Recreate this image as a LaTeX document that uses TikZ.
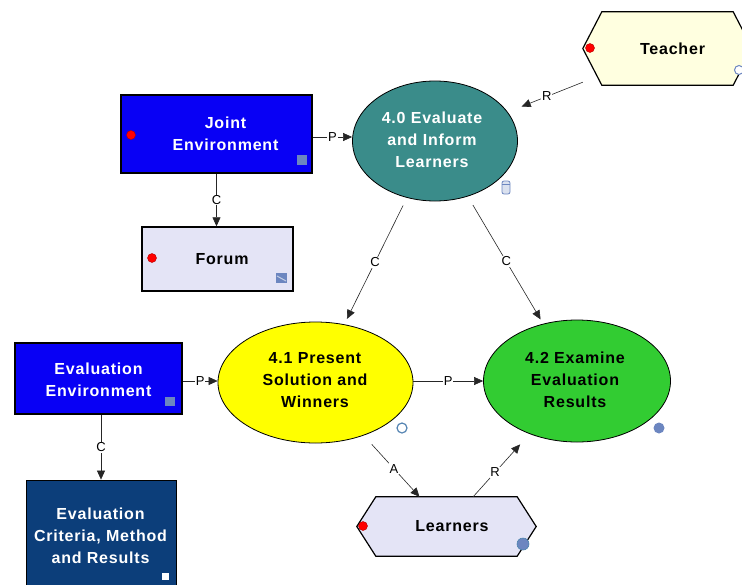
\documentclass[tikz,border=0pt]{standalone}
\usepackage{fontspec}
\setmainfont{Liberation Sans}
\usetikzlibrary{shapes.geometric,arrows.meta,calc}
\definecolor{jblue}{RGB}{8,0,245}
\definecolor{critblue}{RGB}{12,62,122}
\definecolor{tealc}{RGB}{58,140,138}
\definecolor{yel}{RGB}{255,255,0}
\definecolor{grn}{RGB}{50,204,50}
\definecolor{lav}{RGB}{228,228,246}
\definecolor{cream}{RGB}{255,255,224}
\definecolor{iconc}{RGB}{108,134,192}
\begin{document}
\begin{tikzpicture}[x=1pt,y=-1pt,
  txt/.style={font=\fontsize{16}{22}\selectfont\bfseries\addfontfeature{LetterSpace=5},align=center,inner sep=0pt},
  box/.style={draw=black,line width=1.4pt,inner sep=0pt},
  proc/.style={ellipse,draw=black,line width=0.8pt,inner sep=0pt},
  hexnode/.style={inner sep=0pt},
  hexline/.style={draw=black,line width=1.2pt},
  conn/.style={-{Triangle[length=9pt,width=8pt]},line width=0.6pt,draw=black!85},
  lbl/.style={fill=white,inner sep=0.8pt,font=\fontsize{13}{13}\selectfont},
  reddot/.style={fill=red,draw=red!70!black,line width=0.4pt}]
\useasboundingbox (0,0) rectangle (742,584);

% ---- shapes ----
\node[box,fill=jblue,minimum width=191pt,minimum height=78pt] (joint) at (216.5,134) {};
\node[box,fill=lav,minimum width=151pt,minimum height=64pt] (forum) at (217.5,259) {};
\node[box,fill=jblue,line width=1.8pt,minimum width=167pt,minimum height=71pt] (evalenv) at (98.5,378.5) {};
\node[box,fill=critblue,line width=0.8pt,minimum width=150pt,minimum height=120pt] (crit) at (101,540) {};

\node[proc,fill=tealc,minimum width=165pt,minimum height=120pt] (a40) at (435,141) {};
\node[proc,fill=yel,minimum width=195pt,minimum height=121pt] (a41) at (315.5,382.5) {};
\node[proc,fill=grn,minimum width=187pt,minimum height=122pt] (a42) at (577,381) {};

\node[hexnode,minimum width=169pt,minimum height=73pt] (teacher) at (667.5,48.5) {};
\draw[hexline,fill=cream] (teacher.west) -- ([xshift=19pt]teacher.north west) -- ([xshift=-19pt]teacher.north east)
  -- (teacher.east) -- ([xshift=-19pt]teacher.south east) -- ([xshift=19pt]teacher.south west) -- cycle;
\node[hexnode,minimum width=179pt,minimum height=59pt] (learn) at (446.5,526.5) {};
\draw[hexline,fill=lav] (learn.west) -- ([xshift=19pt]learn.north west) -- ([xshift=-19pt]learn.north east)
  -- (learn.east) -- ([xshift=-19pt]learn.south east) -- ([xshift=19pt]learn.south west) -- cycle;

% ---- texts ----
\node[txt,text=white] (jointt) at (225.5,134) {Joint\\Environment};
\node[txt] (forumt) at (222,259.2) {Forum};
\node[txt,text=white] (evalenvt) at (98.5,380) {Evaluation\\Environment};
\node[txt,text=white] (critt) at (100.5,536) {Evaluation\\Criteria, Method\\and Results};
\node[txt,text=white] (a40t) at (432,139.5) {4.0 Evaluate\\and Inform\\Learners};
\node[txt] (a41t) at (315,379.7) {4.1 Present\\Solution and\\Winners};
\node[txt] (a42t) at (575,379.7) {4.2 Examine\\Evaluation\\Results};
\node[txt] (teachert) at (672.5,49.2) {Teacher};
\node[txt] (learnt) at (452,526.2) {Learners};

% ---- icons ----
\fill[reddot] (131,135) circle (4.5pt);
\fill[reddot] (152,258) circle (4.5pt);
\fill[reddot] (590,48) circle (4.5pt);
\fill[reddot] (363,526) circle (4.5pt);
\fill[iconc] (297,155) rectangle (307,165);
\fill[iconc] (165,397) rectangle (175,406);
\fill[iconc] (276,273) rectangle (287,283);
\draw[white!60!iconc,line width=1pt] (277,276) -- (286,281);
\fill[white] (162,573) rectangle (169,580);
\draw[iconc,fill=iconc!25,line width=0.8pt,rounded corners=2pt] (502,181) rectangle (510,194);
\draw[iconc,line width=0.8pt] (502,184.5) -- (510,184.5);
\draw[iconc!80!teal,fill=white,line width=1.2pt] (402,428) circle (5pt);
\fill[iconc] (659,428) circle (5.5pt);
\filldraw[fill=iconc,draw=iconc!70!teal,line width=0.6pt] (523,544) circle (6pt);
\draw[iconc,fill=white,line width=1pt] (739,70) circle (4.5pt);

% ---- connectors ----
\draw[conn,shorten >=15pt] (teacher) -- node[lbl,pos=0.48] {R} (a40);
\draw[conn] (joint.east |- 0,137) -- node[lbl] {P} (a40.west |- 0,137);
\draw[conn] (joint.south) -- node[lbl] {C} (joint.south |- forum.north);
\draw[conn,shorten <=8.5pt,shorten >=6pt] (a40) -- node[lbl,pos=0.51] {C} (a41);
\draw[conn,shorten <=10pt,shorten >=5pt] (a40) -- node[lbl,pos=0.51] {C} (a42);
\draw[conn] (evalenv.east |- 0,381) -- node[lbl] {P} (a41.west |- 0,381);
\draw[conn] (a41.east |- 0,381) -- node[lbl] {P} (a42.west |- 0,381);
\draw[conn] (crit.north |- evalenv.south) -- node[lbl] {C} (crit.north);
\draw[conn,shorten <=12pt] (a41) -- node[lbl,pos=0.54] {A} (learn);
\draw[conn,shorten >=14pt] (learn) -- node[lbl,pos=0.39] {R} (a42);
\end{tikzpicture}
\end{document}
